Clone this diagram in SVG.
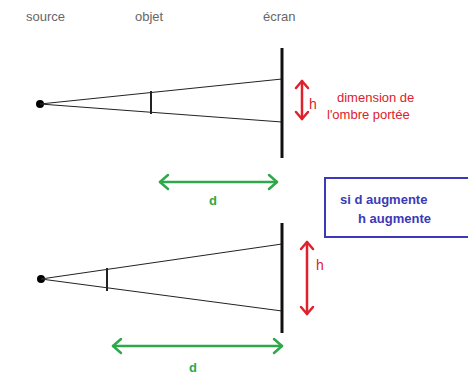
<svg xmlns="http://www.w3.org/2000/svg" width="468" height="376" viewBox="0 0 468 376">
<style>
.lbl{font-family:"Liberation Sans",Arial,sans-serif;font-size:13px;fill:#666}
.ray{stroke:#222;stroke-width:1;fill:none}
.scr{stroke:#111;stroke-width:3;fill:none}
.obj{stroke:#222;stroke-width:2;fill:none}
.red{stroke:#e0202c;stroke-width:2.5;fill:none;stroke-linecap:round;stroke-linejoin:round}
.grn{stroke:#2ea84a;stroke-width:2.5;fill:none;stroke-linecap:round;stroke-linejoin:round}
.rt{font-family:"Liberation Sans",Arial,sans-serif;fill:#e0202c}
.gt{font-family:"Liberation Sans",Arial,sans-serif;font-size:13px;fill:#2ea84a;font-weight:bold}
.bt{font-family:"Liberation Sans",Arial,sans-serif;font-size:13px;fill:#3a3ab8;font-weight:bold}
</style>
<rect width="468" height="376" fill="#fff"/>
<g id="labels">
<text class="lbl" x="26" y="21">source</text>
<text class="lbl" x="135" y="21">objet</text>
<text class="lbl" x="263" y="21">écran</text>
</g>
<g id="setup-top">
<circle cx="40" cy="104" r="4" fill="#000"/>
<line class="ray" x1="40" y1="104" x2="282" y2="79"/>
<line class="ray" x1="40" y1="104" x2="282" y2="122"/>
<line class="obj" x1="151" y1="91" x2="151" y2="114"/>
<line class="scr" x1="282" y1="48" x2="282" y2="158"/>
</g>
<g id="setup-bottom">
<circle cx="41" cy="279" r="4" fill="#000"/>
<line class="ray" x1="41" y1="279" x2="282" y2="244"/>
<line class="ray" x1="41" y1="279" x2="282" y2="311"/>
<line class="obj" x1="107" y1="268" x2="107" y2="291"/>
<line class="scr" x1="282" y1="223" x2="282" y2="333"/>
</g>
<g id="connectors">
<g id="h-top">
<line class="red" x1="302" y1="81" x2="302" y2="119"/>
<polyline class="red" points="296,88 302,81 308,88"/>
<polyline class="red" points="296,112 302,119 308,112"/>
</g>
<g id="h-bottom">
<line class="red" x1="307" y1="242" x2="307" y2="314"/>
<polyline class="red" points="301,249 307,242 313,249"/>
<polyline class="red" points="301,307 307,314 313,307"/>
</g>
<g id="d-top">
<line class="grn" x1="160" y1="182" x2="277" y2="182"/>
<polyline class="grn" points="168,175 160,182 168,189"/>
<polyline class="grn" points="269,175 277,182 269,189"/>
</g>
<g id="d-bottom">
<line class="grn" x1="113" y1="346" x2="282" y2="346"/>
<polyline class="grn" points="121,339 113,346 121,353"/>
<polyline class="grn" points="274,339 282,346 274,353"/>
</g>
</g>
<g id="texts">
<text class="rt" x="309" y="109" font-size="14">h</text>
<text class="rt" x="337" y="102" font-size="13">dimension de</text>
<text class="rt" x="327" y="119" font-size="13">l'ombre portée</text>
<text class="rt" x="316" y="270" font-size="14">h</text>
<text class="gt" x="209" y="205">d</text>
<text class="gt" x="189" y="372">d</text>
</g>
<g id="note">
<rect x="325" y="178" width="150" height="59" fill="#fff" stroke="#3a3ab8" stroke-width="2"/>
<text class="bt" x="340" y="204">si d augmente</text>
<text class="bt" x="358" y="223">h augmente</text>
</g>
</svg>
